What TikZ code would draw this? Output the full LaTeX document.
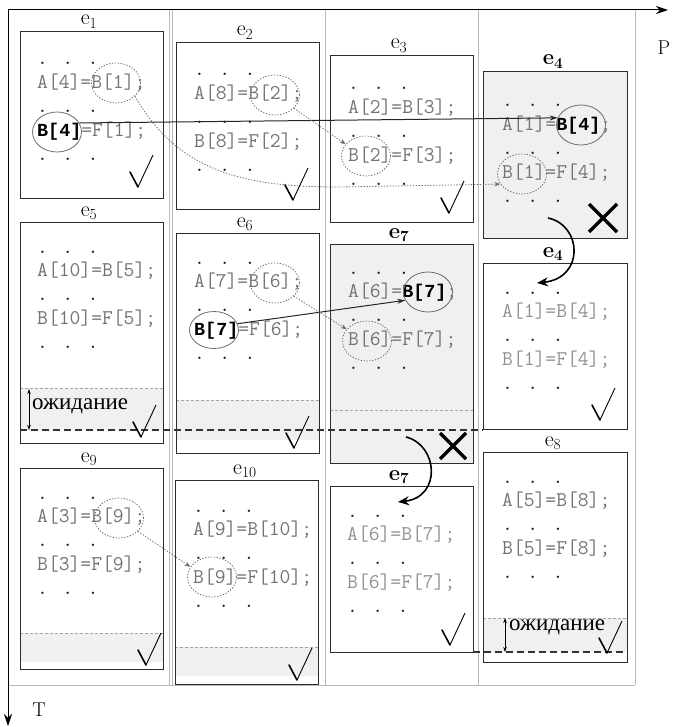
\documentclass[tikz,border=0pt]{standalone}
\usepackage{fontspec}
\newfontfamily\cyrf{Liberation Serif}
\newfontfamily\monob{Liberation Mono}
\usetikzlibrary{shapes.geometric,arrows.meta}
\definecolor{codegray}{RGB}{115,115,115}
\definecolor{lightcode}{RGB}{145,145,145}
\definecolor{dotc}{RGB}{30,30,30}
\definecolor{shadec}{RGB}{240,240,240}
\definecolor{gridc}{RGB}{185,185,185}
\definecolor{boxc}{RGB}{45,45,45}
\definecolor{ellc}{RGB}{110,110,110}
\newcommand\codelines[6]{%
  \node[dotrow] (#1d1) at (#2,#3) {. . .};
  \node[code,text=#6] (#1a) at (#2,#3+23.8) {#4};
  \node[dotrow] (#1d2) at (#2,#3+47.6) {. . .};
  \node[code,text=#6] (#1b) at (#2,#3+71.4) {#5};
  \node[dotrow] (#1d3) at (#2,#3+95.2) {. . .};
}
\newcommand\bk[1]{{\monob\bfseries\fontsize{18.4}{20}\selectfont\color{black}#1}}
\begin{document}
\begin{tikzpicture}[x=1pt,y=-1pt,
  gridline/.style={draw=gridc, line width=0.6pt},
  ebox/.style={draw=boxc, line width=1.1pt, rectangle, inner sep=0, anchor=north west},
  elabel/.style={anchor=base, inner sep=0, font=\fontsize{22}{24}\selectfont},
  code/.style={anchor=base west, inner sep=0, font=\ttfamily\fontsize{21}{23}\selectfont, text=codegray},
  dotrow/.style={code, text=dotc},
  ell/.style={ellipse, draw=ellc, line width=0.8pt, minimum width=49pt, minimum height=40pt, inner sep=0},
  dell/.style={ell, dash pattern=on 1.3pt off 1.6pt},
  dotarrow/.style={draw=ellc, line width=0.8pt, dash pattern=on 1.3pt off 1.6pt, -{Stealth[length=6pt,width=4.5pt]}},
  solidarrow/.style={draw=black!85, line width=1pt, -{Stealth[length=8pt,width=5pt]}},
  bigarrow/.style={draw=black, line width=1.6pt, -{Stealth[length=11pt,width=9pt]}},
  xmark/.style={draw=black, line width=3.2pt},
  thindash/.style={draw=gray!70, line width=0.7pt, dash pattern=on 3pt off 2pt},
  waitline/.style={draw=black!80, line width=1.4pt, dash pattern=on 7pt off 4pt},
  waittext/.style={anchor=west, inner sep=0, font=\cyrf\fontsize{23}{25}\selectfont},
  waitarrow/.style={draw=black, line width=0.7pt, {Stealth[length=5pt,width=3.5pt]}-{Stealth[length=5pt,width=3.5pt]}},
  axis/.style={draw=black, line width=1pt, -{Stealth[length=12pt,width=8pt]}},
  axlabel/.style={inner sep=0, font=\fontsize{20}{22}\selectfont},
  chk/.pic={\draw[line width=1.6pt, line cap=round] (-8,-15) -- (0,0); \draw[line width=0.9pt] (0,0) -- (15,-32);}
]
\useasboundingbox (0,0) rectangle (672,727);
% grid
\draw[gridline] (169.5,10) -- (169.5,685);
\draw[gridline] (172.5,10) -- (172.5,685);
\draw[gridline] (325,10) -- (325,685);
\draw[gridline] (478,10) -- (478,685);
\draw[gridline] (635,10) -- (635,685);
\draw[gridline] (8,685) -- (635,685);
% shading
\fill[shadec] (483,71) rectangle (627,238);
\fill[shadec] (330,244) rectangle (473,463);
\fill[shadec] (20,388) rectangle (163,430);
\fill[shadec] (176,400) rectangle (319,440);
\fill[shadec] (20,633) rectangle (163,662);
\fill[shadec] (175,647) rectangle (318,676);
\fill[shadec] (483,618) rectangle (627,652);
\draw[thindash] (20,388) -- (163,388);
\draw[thindash] (176,400) -- (319,400);
\draw[thindash] (330,410) -- (473,410);
\draw[thindash] (20,633) -- (163,633);
\draw[thindash] (175,647) -- (318,647);
\draw[thindash] (483,618) -- (627,618);
% boxes
\node[ebox, minimum width=143pt, minimum height=167pt] (E1) at (20,31) {};
\node[ebox, minimum width=143pt, minimum height=167pt] (E2) at (176,42) {};
\node[ebox, minimum width=143pt, minimum height=167pt] (E3) at (330,55) {};
\node[ebox, minimum width=144pt, minimum height=167pt] (E4) at (483,71) {};
\node[ebox, minimum width=143pt, minimum height=221pt] (E5) at (20,222) {};
\node[ebox, minimum width=143pt, minimum height=220pt] (E6) at (176,233) {};
\node[ebox, minimum width=143pt, minimum height=219pt] (E7) at (330,244) {};
\node[ebox, minimum width=144pt, minimum height=166pt] (E4p) at (483,263) {};
\node[ebox, minimum width=143pt, minimum height=166pt] (E7p) at (330,486) {};
\node[ebox, minimum width=144pt, minimum height=210pt] (E8) at (483,452) {};
\node[ebox, minimum width=143pt, minimum height=201pt] (E9) at (20,468) {};
\node[ebox, minimum width=143pt, minimum height=204pt] (E10) at (175,480) {};
% labels
\node[elabel] (L1) at (89,25) {e\textsubscript{1}};
\node[elabel] (L2) at (245,36) {e\textsubscript{2}};
\node[elabel] (L3) at (399,49) {e\textsubscript{3}};
\node[elabel] (L4) at (553,65) {\textbf{e\textsubscript{4}}};
\node[elabel] (L5) at (89,216) {e\textsubscript{5}};
\node[elabel] (L6) at (245,227) {e\textsubscript{6}};
\node[elabel] (L7) at (399,238) {\textbf{e\textsubscript{7}}};
\node[elabel] (L4p) at (553,257) {\textbf{e\textsubscript{4}}};
\node[elabel] (L7p) at (399,480) {\textbf{e\textsubscript{7}}};
\node[elabel] (L8) at (553,446) {e\textsubscript{8}};
\node[elabel] (L9) at (89,462) {e\textsubscript{9}};
\node[elabel] (L10) at (245,474) {e\textsubscript{10}};
% sync lines
\draw[waitline] (20,430) -- (483,430);
\draw[waitline] (473,652) -- (627,652);
% code
\codelines{c1}{37}{65}{A[4]=B[1];}{\bk{B[4]}=F[1];}{codegray}
\codelines{c2}{194}{76}{A[8]=B[2];}{B[8]=F[2];}{codegray}
\codelines{c3}{348}{90}{A[2]=B[3];}{B[2]=F[3];}{codegray}
\codelines{c4}{502}{107}{A[1]=\bk{B[4]};}{B[1]=F[4];}{codegray}
\codelines{c5}{37}{253}{A[10]=B[5];}{B[10]=F[5];}{codegray}
\codelines{c6}{194}{264}{A[7]=B[6];}{\bk{B[7]}=F[6];}{codegray}
\codelines{c7}{348}{274}{A[6]=\bk{B[7]};}{B[6]=F[7];}{codegray}
\codelines{c4p}{502}{294}{A[1]=B[4];}{B[1]=F[4];}{lightcode}
\codelines{c9}{37}{499}{A[3]=B[9];}{B[3]=F[9];}{codegray}
\codelines{c10}{193}{512}{A[9]=B[10];}{B[9]=F[10];}{codegray}
\codelines{c7p}{347}{517}{A[6]=B[7];}{B[6]=F[7];}{lightcode}
\codelines{c8}{502}{483}{A[5]=B[8];}{B[5]=F[8];}{codegray}
% ellipses
\node[dell] (e1b1) at (116,83) {};
\node[ell] (e1b4) at (57,132) {};
\node[dell] (e2b2) at (275,95) {};
\node[dell] (e3b2) at (366,156) {};
\node[ell] (e4b4) at (581,125) {};
\node[dell] (e4b1) at (522,174) {};
\node[dell] (e6b6) at (275,283) {};
\node[ell, minimum height=37pt] (e6b7) at (214,330) {};
\node[ell] (e7b7) at (428,292) {};
\node[dell] (e7b6) at (367,341) {};
\node[dell] (e9b9) at (119,518) {};
\node[dell] (e10b9) at (212,577) {};
% connectors
\draw[dotarrow] (e1b1.-35) .. controls (180,175) and (250,187) .. (340,187) -- (e4b1.205);
\draw[solidarrow] (e1b4.22) -- (e4b4.163);
\draw[dotarrow] (e2b2.-35) -- (e3b2.150);
\draw[solidarrow] (e6b7.15) -- (e7b7.200);
\draw[dotarrow] (e6b6.-35) -- (e7b6.150);
\draw[dotarrow] (e9b9.-35) -- (e10b9.155);
\coordinate (r4s) at (548,218);
\coordinate (r4e) at (537,283);
\draw[bigarrow] (r4s) .. controls (582,225) and (585,278) .. (r4e);
\coordinate (r7s) at (406,437);
\coordinate (r7e) at (398,502);
\draw[bigarrow] (r7s) .. controls (438,445) and (442,497) .. (r7e);
% X marks
\draw[xmark] (589,204) -- (617,232) (589,232) -- (617,204);
\draw[xmark] (440,433) -- (466,459) (440,459) -- (466,433);
% check marks
\pic at (138,187) {chk};
\pic at (293,200) {chk};
\pic at (449,213) {chk};
\pic at (600,420) {chk};
\pic at (141,437) {chk};
\pic at (294,448) {chk};
\pic at (450,645) {chk};
\pic at (146,665) {chk};
\pic at (297,680) {chk};
\pic at (607,653) {chk};
% waiting
\coordinate (w5t) at (29,389);
\coordinate (w5b) at (29,430);
\draw[waitarrow] (w5t) -- (w5b);
\node[waittext] (w5) at (32,406) {ожидание};
\coordinate (w8t) at (505,618);
\coordinate (w8b) at (505,652);
\draw[waitarrow] (w8t) -- (w8b);
\node[waittext] (w8) at (509,627) {ожидание};
% axes
\coordinate (O) at (8,10);
\coordinate (Px) at (668,10);
\coordinate (Ty) at (8,726);
\draw[axis] (O) -- (Px);
\draw[axis] (O) -- (Ty);
\node[axlabel] (P) at (664,48) {P};
\node[axlabel] (T) at (39,710) {T};
\end{tikzpicture}
\end{document}
